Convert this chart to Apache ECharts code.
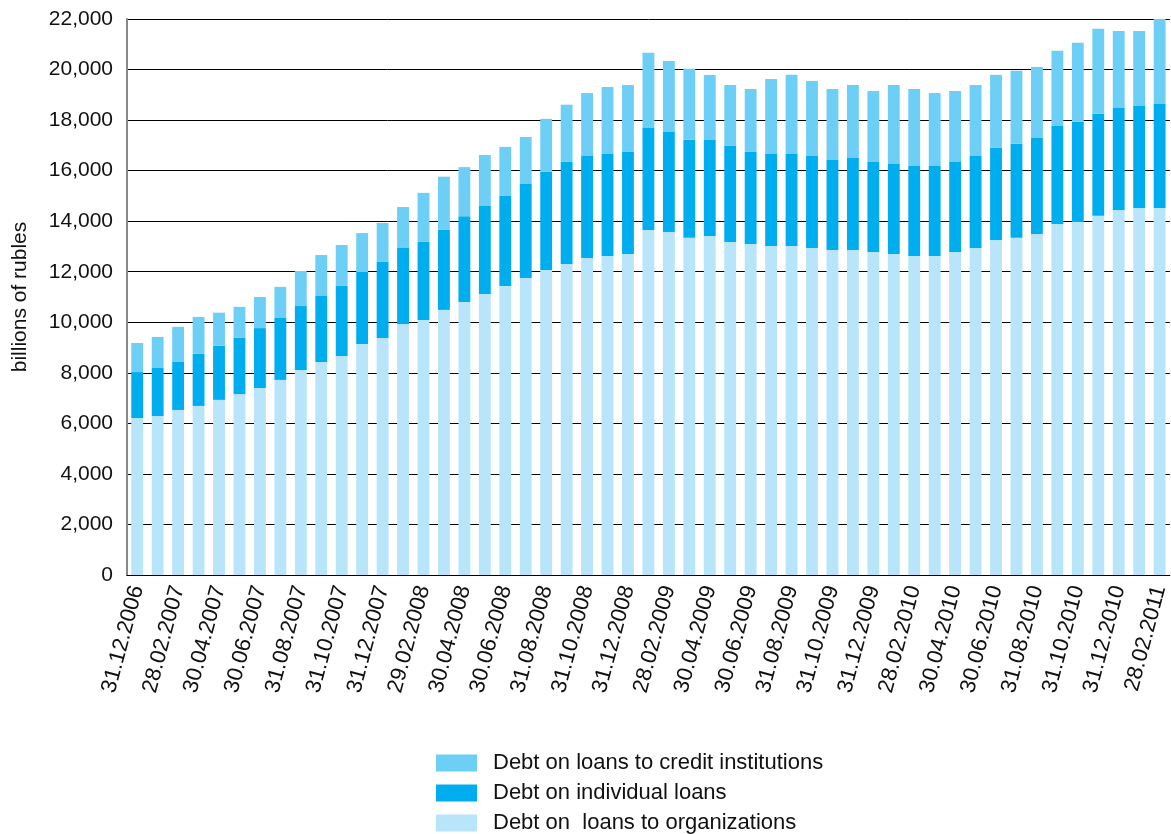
<!DOCTYPE html>
<html>
<head>
<meta charset="utf-8">
<title>Debt on loans</title>
<script src="https://cdn.jsdelivr.net/npm/echarts@6/dist/echarts.min.js"></script>
<style>
    html, body { margin: 0; padding: 0; background: #fff; }
    #chartsDisplay { width: 1171px; height: 834px; }
</style>
</head>
<body>
<div id="chartsDisplay"></div>
<script>
var dates = [
    '31.12.2006',
    '31.01.2007', '28.02.2007', '31.03.2007', '30.04.2007', '31.05.2007', '30.06.2007',
    '31.07.2007', '31.08.2007', '30.09.2007', '31.10.2007', '30.11.2007', '31.12.2007',
    '31.01.2008', '29.02.2008', '31.03.2008', '30.04.2008', '31.05.2008', '30.06.2008',
    '31.07.2008', '31.08.2008', '30.09.2008', '31.10.2008', '30.11.2008', '31.12.2008',
    '31.01.2009', '28.02.2009', '31.03.2009', '30.04.2009', '31.05.2009', '30.06.2009',
    '31.07.2009', '31.08.2009', '30.09.2009', '31.10.2009', '30.11.2009', '31.12.2009',
    '31.01.2010', '28.02.2010', '31.03.2010', '30.04.2010', '31.05.2010', '30.06.2010',
    '31.07.2010', '31.08.2010', '30.09.2010', '31.10.2010', '30.11.2010', '31.12.2010',
    '31.01.2011', '28.02.2011'
];

// billions of rubles
var organizations = [
    6210, 6290, 6530, 6690, 6930, 7160, 7400, 7720, 8110, 8430,
    8670, 9140, 9380, 9930, 10090, 10490, 10800, 11120, 11440, 11750,
    12070, 12310, 12540, 12620, 12700, 13650, 13570, 13340, 13410, 13180,
    13100, 13020, 13020, 12940, 12860, 12860, 12780, 12700, 12620, 12620,
    12780, 12940, 13260, 13340, 13490, 13890, 13970, 14210, 14440, 14520,
    14520
];
var individuals = [
    1820, 1900, 1900, 2060, 2140, 2220, 2370, 2450, 2530, 2610,
    2770, 2850, 3010, 3010, 3090, 3170, 3400, 3480, 3560, 3720,
    3880, 4040, 4040, 4040, 4040, 4040, 3960, 3880, 3800, 3800,
    3640, 3640, 3640, 3640, 3560, 3640, 3560, 3560, 3560, 3560,
    3560, 3640, 3640, 3720, 3800, 3880, 3960, 4040, 4040, 4040,
    4120
];
var creditInst = [
    1150, 1230, 1390, 1460, 1310, 1230, 1230, 1230, 1390, 1620,
    1620, 1540, 1540, 1620, 1940, 2100, 1940, 2020, 1940, 1860,
    2100, 2260, 2490, 2650, 2650, 2970, 2810, 2810, 2570, 2410,
    2490, 2970, 3130, 2970, 2810, 2890, 2810, 3130, 3050, 2890,
    2810, 2810, 2890, 2890, 2810, 2970, 3130, 3360, 3050, 2970,
    3360
];

var names = ['Debt on loans to credit institutions', 'Debt on individual loans', 'Debt on  loans to organizations'];
var fontName = '"Liberation Sans", Arial, Helvetica, sans-serif';

var myChart = echarts.init(document.getElementById('chartsDisplay'));

var option = {
    animation: false,
    textStyle: { fontFamily: fontName },
    grid: { left: 127, right: 0, top: 19, bottom: 259 },
    legend: {
        data: names,
        orient: 'vertical',
        left: 436,
        top: 752,
        height: 100,
        padding: 0,
        itemWidth: 41,
        itemHeight: 17,
        itemGap: 8,
        icon: 'rect',
        selectedMode: false,
        textStyle: {
            fontSize: 22,
            lineHeight: 22,
            color: '#111',
            padding: [0, 0, 0, 11],
            fontFamily: fontName
        }
    },
    xAxis: {
        type: 'category',
        data: dates,
        axisLine: { lineStyle: { color: '#000', width: 1 } },
        axisTick: { interval: 0, length: 6, lineStyle: { color: '#777' } },
        axisLabel: {
            interval: 1,
            rotate: 75,
            margin: 11,
            fontSize: 22,
            color: '#111',
            fontFamily: fontName
        }
    },
    yAxis: {
        type: 'value',
        min: 0,
        max: 22000,
        interval: 2000,
        name: 'billions of rubles',
        nameLocation: 'middle',
        nameGap: 96,
        nameTextStyle: { fontSize: 21, color: '#111', fontFamily: fontName },
        axisLine: { show: true, lineStyle: { color: '#888', width: 2 } },
        axisTick: { show: false },
        splitLine: { lineStyle: { color: '#000', width: 1 } },
        axisLabel: {
            fontSize: 21,
            color: '#111',
            margin: 14,
            fontFamily: fontName,
            formatter: function (v) { return v.toLocaleString('en-US'); }
        }
    },
    series: [
        {
            name: names[2],
            type: 'bar',
            stack: 'debt',
            barWidth: '58%',
            itemStyle: { color: '#B9E5FA' },
            data: organizations
        },
        {
            name: names[1],
            type: 'bar',
            stack: 'debt',
            itemStyle: { color: '#00AEEF' },
            data: individuals
        },
        {
            name: names[0],
            type: 'bar',
            stack: 'debt',
            itemStyle: { color: '#6DCFF6' },
            data: creditInst
        }
    ]
};

myChart.setOption(option);
</script>
</body>
</html>
